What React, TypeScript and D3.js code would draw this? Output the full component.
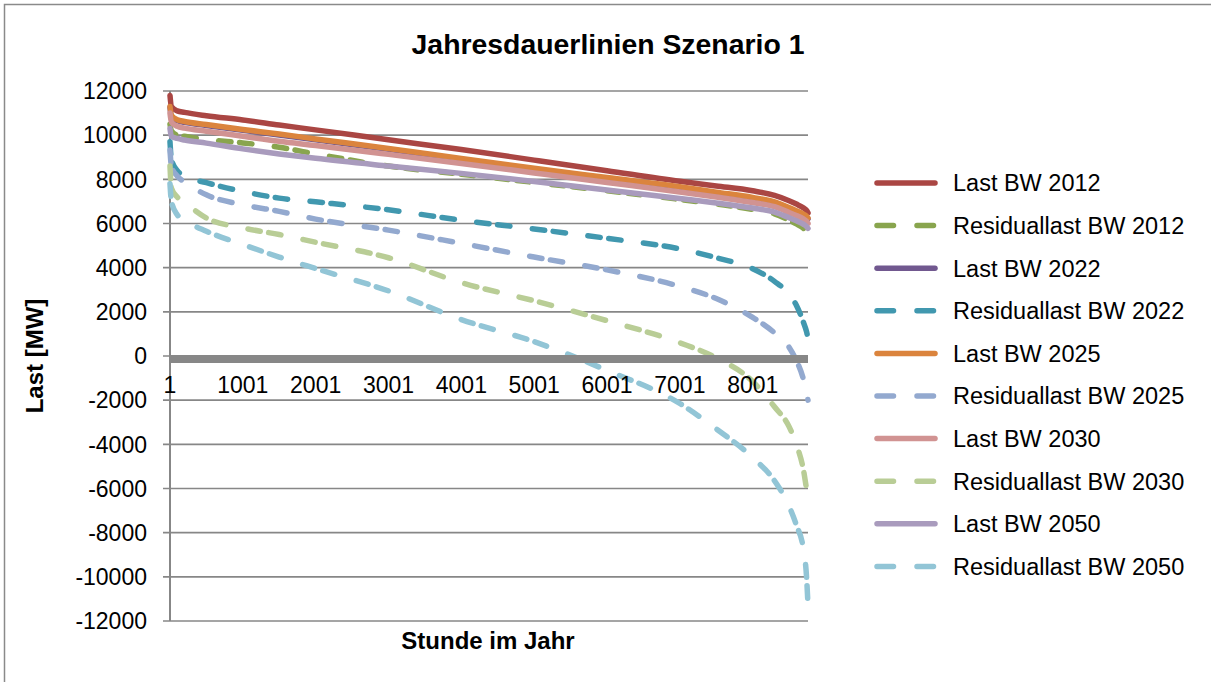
import React, { useEffect, useRef } from 'react';
import * as d3 from 'd3';

// Stunden (Stützstellen der Dauerlinien)
const hours = [1, 20, 100, 200, 500, 1000, 1500, 2000, 3000, 4000, 5000, 6000, 7000, 7500, 8000, 8300, 8500, 8600, 8700, 8740, 8760];

const last2012 = [11800, 11300, 11100, 11030, 10880, 10690, 10460, 10240, 9790, 9350, 8870, 8390, 7910, 7700, 7480, 7270, 7030, 6880, 6700, 6590, 6480];
const res2012 = [10500, 10200, 10000, 9950, 9800, 9650, 9450, 9150, 8600, 8230, 7860, 7480, 7090, 6880, 6640, 6440, 6150, 5980, 5780, 5650, 5550];
const last2022 = [11260, 10860, 10660, 10580, 10440, 10220, 10010, 9790, 9360, 8900, 8460, 8040, 7620, 7380, 7140, 6940, 6680, 6540, 6380, 6290, 6210];
const res2022 = [9700, 8900, 8400, 8150, 7850, 7450, 7150, 6980, 6620, 6150, 5750, 5330, 4850, 4450, 3950, 3380, 2800, 2300, 1500, 1100, 800];
const last2025 = [11300, 10900, 10700, 10620, 10480, 10260, 10050, 9830, 9400, 8940, 8500, 8080, 7660, 7420, 7180, 6980, 6720, 6580, 6420, 6330, 6250];
const res2025 = [9330, 8600, 8150, 7880, 7300, 6850, 6550, 6200, 5700, 5100, 4480, 3900, 3150, 2600, 1750, 1050, 400, -200, -1100, -1700, -2000];
const last2030 = [11000, 10600, 10400, 10320, 10180, 9950, 9720, 9530, 9130, 8720, 8290, 7860, 7430, 7200, 6950, 6760, 6500, 6360, 6200, 6100, 6000];
const res2030 = [8600, 7600, 7200, 6950, 6250, 5800, 5500, 5150, 4450, 3320, 2500, 1600, 600, -80, -1150, -2300, -3200, -4000, -5200, -6000, -6300];
const last2050 = [10300, 9950, 9850, 9780, 9640, 9380, 9150, 8950, 8600, 8270, 7900, 7520, 7130, 6930, 6700, 6520, 6260, 6120, 5960, 5860, 5780];
const res2050 = [7800, 7000, 6400, 6150, 5650, 5050, 4480, 3960, 2950, 1650, 650, -650, -2150, -3300, -4600, -5650, -6800, -7650, -8800, -10000, -11300];

const seriesNames = [
  'Last BW 2012', 'Residuallast BW 2012',
  'Last BW 2022', 'Residuallast BW 2022',
  'Last BW 2025', 'Residuallast BW 2025',
  'Last BW 2030', 'Residuallast BW 2030',
  'Last BW 2050', 'Residuallast BW 2050',
];
const seriesValues = [last2012, res2012, last2022, res2022, last2025, res2025, last2030, res2030, last2050, res2050];
const seriesColors = ['#AA4643', '#89A54E', '#71588F', '#4198AF', '#DB843D', '#93A9CF', '#D19392', '#B9CD96', '#A99BBD', '#92C5D6'];

const yTicks = [12000, 10000, 8000, 6000, 4000, 2000, 0, -2000, -4000, -6000, -8000, -10000, -12000];
const xTicks = [1, 1001, 2001, 3001, 4001, 5001, 6001, 7001, 8001];

const W = 1211;
const H = 682;
const font = '"Liberation Sans", Arial, sans-serif';

const App = () => {
  const svgRef = useRef<SVGSVGElement | null>(null);

  useEffect(() => {
    const svg = d3.select(svgRef.current);
    svg.selectAll('*').remove();

    const x = d3.scaleLinear().domain([1, 8760]).range([170, 808]);
    const y = d3.scaleLinear().domain([-12000, 12000]).range([621, 91]);

    svg.append('rect').attr('width', W).attr('height', H).attr('fill', '#fff');
    // Rahmen
    svg.append('rect')
      .attr('x', 4.5).attr('y', 4.5)
      .attr('width', W + 20).attr('height', H + 20)
      .attr('fill', 'none').attr('stroke', '#8a8a8a').attr('stroke-width', 1.5);

    // Gitterlinien
    svg.append('g').selectAll('line')
      .data(yTicks)
      .enter().append('line')
        .attr('x1', 163).attr('x2', 808)
        .attr('y1', (d) => y(d)).attr('y2', (d) => y(d))
        .attr('stroke', '#878787').attr('stroke-width', 1.6);

    // y-Achse
    svg.append('line')
      .attr('x1', 170).attr('x2', 170).attr('y1', y(12000)).attr('y2', y(-12000))
      .attr('stroke', '#878787').attr('stroke-width', 2);

    svg.append('g').selectAll('text')
      .data(yTicks)
      .enter().append('text')
        .attr('x', 147).attr('y', (d) => y(d))
        .attr('dy', '0.36em')
        .attr('text-anchor', 'end')
        .style('font-family', font).style('font-size', '23px')
        .text((d) => String(d));

    // Kurven
    const line = d3.line<number>()
      .x((_, i) => x(hours[i]))
      .y((d) => y(d))
      .curve(d3.curveMonotoneX);

    const plot = svg.append('g');
    seriesValues.forEach((vals, i) => {
      const dashed = i % 2 === 1;
      plot.append('path')
        .attr('d', line(vals))
        .attr('fill', 'none')
        .attr('stroke', seriesColors[i])
        .attr('stroke-width', 5.5)
        .attr('stroke-linecap', 'round')
        .attr('stroke-linejoin', 'round')
        .attr('stroke-dasharray', dashed ? '12.5 8.5 12.5 22.5' : null);
    });

    // x-Achse (bei 0)
    svg.append('rect')
      .attr('x', 170).attr('y', y(0) - 1)
      .attr('width', 638).attr('height', 8)
      .attr('fill', '#878787');

    svg.append('g').selectAll('text')
      .data(xTicks)
      .enter().append('text')
        .attr('x', (d) => x(d)).attr('y', 393)
        .attr('text-anchor', 'middle')
        .style('font-family', font).style('font-size', '23px')
        .text((d) => String(d));

    // Titel
    svg.append('text')
      .attr('x', 608).attr('y', 54)
      .attr('text-anchor', 'middle')
      .style('font-family', font).style('font-size', '28.4px').style('font-weight', 'bold')
      .text('Jahresdauerlinien Szenario 1');

    svg.append('text')
      .attr('x', 488).attr('y', 649)
      .attr('text-anchor', 'middle')
      .style('font-family', font).style('font-size', '24px').style('font-weight', 'bold')
      .text('Stunde im Jahr');

    svg.append('text')
      .attr('transform', 'translate(43, 356) rotate(-90)')
      .attr('text-anchor', 'middle')
      .style('font-family', font).style('font-size', '24px').style('font-weight', 'bold')
      .text('Last [MW]');

    // Legende
    const legend = svg.append('g');
    seriesNames.forEach((name, i) => {
      const ly = 183 + i * 42.6;
      legend.append('line')
        .attr('x1', 877).attr('x2', 935).attr('y1', ly).attr('y2', ly)
        .attr('stroke', seriesColors[i])
        .attr('stroke-width', 5.5)
        .attr('stroke-linecap', 'round')
        .attr('stroke-dasharray', i % 2 === 1 ? '16.5 23.5' : null);
      legend.append('text')
        .attr('x', 953).attr('y', ly).attr('dy', '0.36em')
        .style('font-family', font).style('font-size', '23.5px')
        .text(name);
    });
  }, []);

  return (
    <svg
      ref={svgRef}
      width={W}
      height={H}
      style={{ position: 'absolute', left: 0, top: 0, overflow: 'hidden' }}
    />
  );
};

export default App;
